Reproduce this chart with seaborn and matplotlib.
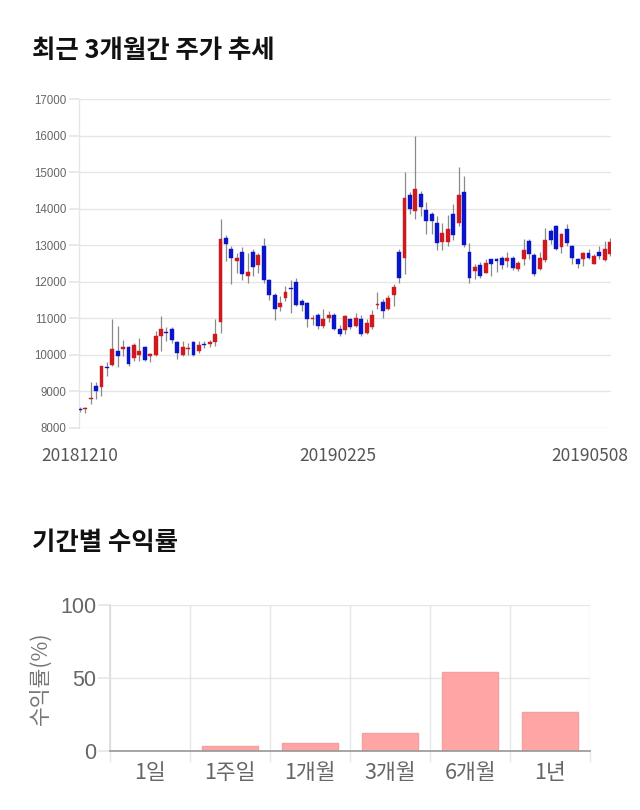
import numpy as np
import pandas as pd
import matplotlib
matplotlib.use("Agg")
import matplotlib.pyplot as plt
import seaborn as sns

# ---------------- data ----------------
opens = [8520, 8520, 8780, 9150, 9120, 9670, 9730, 10120, 10160, 10220,
         9920, 10010, 10210, 9980, 10000, 10510, 10620, 10710, 10350, 10010,
         10150, 10350, 10100, 10300, 10300, 10350, 10900, 13200, 12900, 12570,
         12820, 12160, 12820, 12470, 12980, 12060, 11650, 11310, 11550, 11830,
         12000, 11480, 11410, 10970, 11100, 10800, 11010, 11100, 10710, 10670,
         10970, 10800, 10970, 10600, 10750, 11360, 11460, 11260, 11650, 12820,
         12660, 14370, 13940, 14410, 13960, 13860, 13620, 13100, 13100, 13860,
         13600, 14460, 12820, 12290, 12460, 12250, 12610, 12610, 12660, 12570,
         12660, 12360, 12610, 13120, 12720, 12360, 12600, 13400, 13520, 12940,
         13450, 12980, 12610, 12610, 12790, 12500, 12820, 12600, 12760]
highs = [8570, 8580, 9250, 9270, 9700, 9800, 10970, 10780, 10420, 10240,
         10320, 10460, 10240, 10060, 10640, 11060, 10750, 10750, 10380, 10380,
         10330, 10380, 10380, 10380, 10420, 10970, 13710, 13290, 12980, 12800,
         12940, 12800, 12900, 12800, 13200, 12080, 11690, 11610, 11880, 12060,
         12110, 11520, 11440, 11100, 11140, 11250, 11190, 11140, 10830, 11100,
         11010, 11140, 11100, 10970, 11230, 11710, 11520, 11650, 11940, 12900,
         15010, 14460, 15980, 14480, 14180, 13910, 13800, 13620, 13840, 14120,
         15130, 14880, 13070, 12480, 12540, 12610, 12610, 12660, 12700, 12820,
         12700, 12560, 13160, 13160, 12790, 12820, 13460, 13450, 13540, 13340,
         13590, 13000, 12660, 12810, 12900, 12750, 12980, 13110, 13210]
lows = [8440, 8420, 8650, 8780, 8870, 9430, 9700, 9670, 9970, 9700,
        9830, 9830, 9830, 9810, 9980, 10100, 10380, 10330, 9890, 9970,
        10010, 9970, 10060, 10200, 10220, 10240, 10600, 12570, 11940, 12250,
        12050, 11970, 12150, 12250, 11970, 11510, 10960, 11190, 11470, 11140,
        11330, 11190, 10760, 10830, 10710, 10740, 10890, 10670, 10530, 10580,
        10710, 10760, 10510, 10560, 10710, 11260, 11010, 11240, 11330, 11960,
        12210, 13850, 13720, 13800, 13310, 13310, 12880, 12860, 12980, 13150,
        13530, 12960, 11960, 12080, 12110, 12230, 12160, 12270, 12340, 12410,
        12330, 12290, 12470, 12610, 12160, 12330, 12540, 13040, 12860, 12800,
        12990, 12480, 12380, 12430, 12610, 12480, 12610, 12580, 12710]
closes = [8490, 8550, 8820, 9000, 9690, 9630, 10160, 9980, 10220, 9760,
          10260, 10100, 9870, 10020, 10510, 10710, 10600, 10420, 10050, 10210,
          10170, 10010, 10260, 10260, 10350, 10560, 13160, 13020, 12660, 12660,
          12200, 12270, 12410, 12720, 12050, 11650, 11260, 11410, 11720, 11810,
          11370, 11370, 10970, 11010, 10800, 10970, 11100, 10710, 10560, 11060,
          10760, 11010, 10560, 10860, 11100, 11380, 11210, 11560, 11870, 12110,
          14300, 14000, 14550, 14050, 13670, 13670, 13050, 13340, 13450, 13290,
          14370, 13010, 12110, 12410, 12160, 12520, 12500, 12570, 12450, 12660,
          12380, 12500, 12860, 12770, 12200, 12660, 13150, 13150, 12900, 13310,
          13060, 12660, 12500, 12790, 12660, 12700, 12700, 12900, 13100]
date_labels = ["20181210", "20190225", "20190508"]
date_label_pos = [0, 47.7, 94.3]
y_ticks_price = [8000, 9000, 10000, 11000, 12000, 13000, 14000, 15000, 16000, 17000]

periods = ["1일", "1주일", "1개월", "3개월", "6개월", "1년"]
returns = [0.0, 3.4, 5.2, 12.0, 54.1, 26.6]

# ---------------- style ----------------
sns.set_theme(style="white")
plt.rcParams["font.family"] = ["Liberation Sans", "Noto Sans CJK KR", "DejaVu Sans"]

fig = plt.figure(figsize=(6.4, 8.1), dpi=100)

GRID = "#e6e6e6"
RED = "#d0191e"
BLUE = "#0a14c8"
CJK = ["Noto Sans CJK KR", "DejaVu Sans"]

# ---------------- candlestick chart ----------------
ax1 = fig.add_axes([79 / 640, 1 - 428 / 810, (611 - 79) / 640, (428 - 99) / 810])
df = pd.DataFrame({"open": opens, "high": highs, "low": lows, "close": closes})
df["idx"] = np.arange(len(df))
df["up"] = df["close"] >= df["open"]
df["bottom"] = df[["open", "close"]].min(axis=1)
df["height"] = (df["close"] - df["open"]).abs().clip(lower=28)
colors = np.where(df["up"], RED, BLUE)

ax1.vlines(df["idx"], df["low"], df["high"], color="#8a8a8a", linewidth=0.9, zorder=2)
ax1.bar(df["idx"], df["height"], bottom=df["bottom"], width=0.72,
        color=colors, edgecolor=colors, linewidth=0.3, zorder=3)

ax1.set_ylim(8000, 17000)
ax1.set_xlim(-0.15, len(df) - 0.85)
ax1.set_yticks(y_ticks_price)
ax1.set_yticklabels([str(v) for v in y_ticks_price], fontsize=8.3, color="#666666")
ax1.yaxis.grid(True, color=GRID, linewidth=1)
ax1.xaxis.grid(False)
ax1.tick_params(axis="y", length=7, color=GRID, pad=2, left=True)
ax1.set_xticks(date_label_pos)
ax1.set_xticklabels(date_labels, fontsize=12.5, color="#555555", family=CJK)
ax1.tick_params(axis="x", length=0, pad=14)
for s in ["top", "right", "bottom"]:
    ax1.spines[s].set_visible(False)
ax1.spines["left"].set_color(GRID)
ax1.spines["left"].set_linewidth(1)

fig.text(32 / 640, 1 - 50 / 810, "최근 3개월간 주가 추세", fontsize=18.3, fontweight="bold",
         color="#111111", va="center", ha="left", family=CJK)

# ---------------- returns bar chart ----------------
ax2 = fig.add_axes([110 / 640, 1 - 751 / 810, (590 - 110) / 640, (751 - 605) / 810])
rdf = pd.DataFrame({"period": periods, "ret": returns})
sns.barplot(data=rdf, x="period", y="ret", color="#ffa5a5", saturation=1,
            width=0.7, edgecolor="#f2a0a0", linewidth=1, ax=ax2, zorder=3)
ax2.set_ylim(0, 100)
ax2.set_xlim(-0.5, len(periods) - 0.5)
ax2.set_yticks([0, 50, 100])
ax2.set_yticklabels(["0", "50", "100"], fontsize=15.5, color="#666666")
ax2.yaxis.grid(True, color=GRID, linewidth=1)
ax2.set_xticks(np.arange(-0.5, len(periods)), minor=True)
ax2.xaxis.grid(True, which="minor", color=GRID, linewidth=1)
ax2.xaxis.grid(False, which="major")
ax2.tick_params(axis="x", which="minor", length=8, color=GRID, bottom=True)
ax2.tick_params(axis="x", which="major", length=0, pad=8)
for lab in ax2.get_xticklabels():
    lab.set_fontsize(15.5)
    lab.set_color("#666666")
    lab.set_family(CJK)
ax2.tick_params(axis="y", length=9, color=GRID, left=True, pad=1)
ax2.set_xlabel("")
ax2.set_ylabel("수익률(%)", fontsize=15.5, color="#777777", labelpad=6, family=CJK)
for s in ["top", "right"]:
    ax2.spines[s].set_visible(False)
ax2.spines["left"].set_color("#dddddd")
ax2.spines["bottom"].set_color("#9a9a9a")
ax2.spines["bottom"].set_zorder(4)

fig.text(32 / 640, 1 - 543 / 810, "기간별 수익률", fontsize=18.3, fontweight="bold",
         color="#111111", va="center", ha="left", family=CJK)

fig.savefig("out.png", dpi=100, facecolor="white")
